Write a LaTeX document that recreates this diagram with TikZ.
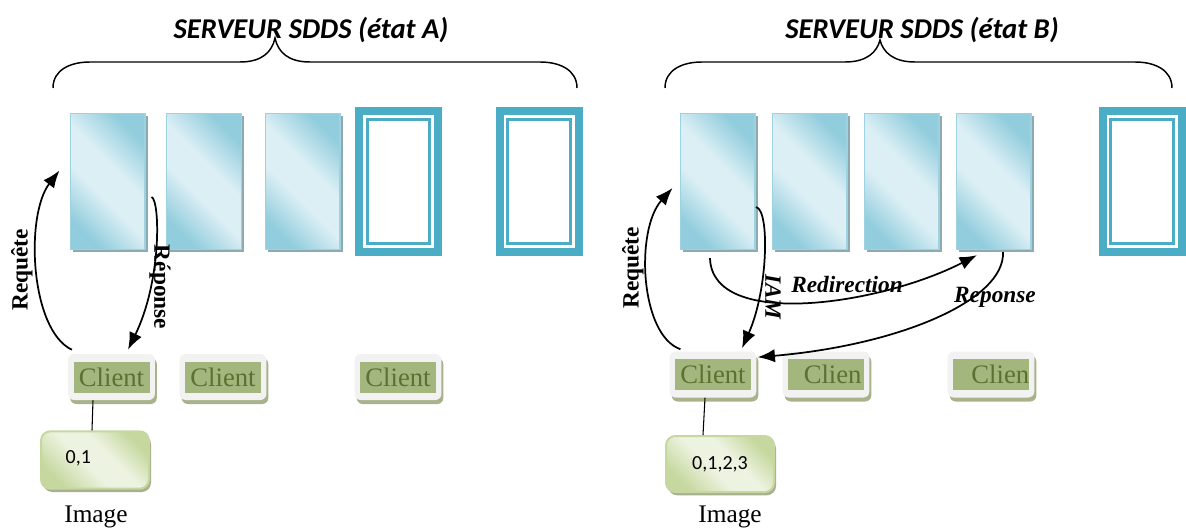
\documentclass[tikz,border=0pt]{standalone}
\usepackage{fontspec}
\setmainfont{Liberation Serif}
\newfontfamily\calibri{Carlito}
\usetikzlibrary{arrows.meta,shadows}

\definecolor{srvlight}{HTML}{DCEFF5}
\definecolor{srvdark}{HTML}{92CDDD}
\definecolor{srvedge}{HTML}{9DD3E0}
\definecolor{srvshadow}{HTML}{8FA9B1}
\definecolor{emptyblue}{HTML}{4BACC6}
\definecolor{cligray}{HTML}{F2F2F2}
\definecolor{cligreen}{HTML}{A3B67D}
\definecolor{clitext}{HTML}{5C7031}
\definecolor{clishadow}{HTML}{A8B38C}
\definecolor{imglight}{HTML}{EDF3E1}
\definecolor{imgdark}{HTML}{C6D89F}
\definecolor{imgshadow}{HTML}{A9B091}

\pgfdeclarehorizontalshading{srvshade}{100bp}{color(0bp)=(srvdark); color(25bp)=(srvdark); color(43bp)=(srvlight); color(57bp)=(srvlight); color(75bp)=(srvdark); color(100bp)=(srvdark)}
\pgfdeclarehorizontalshading{imgshade}{100bp}{color(0bp)=(imgdark); color(25bp)=(imgdark); color(45bp)=(imglight); color(58bp)=(imglight); color(75bp)=(imgdark); color(100bp)=(imgdark)}

\tikzset{
  srvbox/.style={rectangle, draw=srvedge, line width=1pt, shading=srvshade, shading angle=45,
    minimum width=56pt, minimum height=102pt,
    drop shadow={shadow xshift=2.2pt, shadow yshift=-2.2pt, fill=srvshadow, opacity=1}},
  freebox/.style={rectangle, draw=emptyblue, fill=white, line width=6pt,
    minimum width=59.25pt, minimum height=105.75pt},
  freeinner/.style={draw=emptyblue, line width=2pt},
  cliframe/.style={rectangle, rounded corners=4.5pt, fill=cligray,
    minimum width=65pt, minimum height=34.5pt,
    drop shadow={shadow xshift=1.5pt, shadow yshift=-3pt, fill=clishadow, opacity=1}},
  clibox/.style={rectangle, fill=cligreen, text=clitext, inner sep=0pt,
    minimum width=57pt, minimum height=23.25pt, font=\fontsize{20}{20}\selectfont},
  imgbox/.style={rectangle, rounded corners=7pt, draw=imgdark, line width=1.5pt,
    shading=imgshade, shading angle=45, minimum width=81pt, minimum height=43pt,
    drop shadow={shadow xshift=1.5pt, shadow yshift=-2.5pt, fill=imgshadow, opacity=1}},
  flow/.style={-{Latex[length=13pt,width=10pt]}, line width=1.3pt},
  flowlbl/.style={font=\fontsize{17.5}{17.5}\selectfont\bfseries},
  flowital/.style={font=\fontsize{17.5}{17.5}\selectfont\bfseries\itshape},
  srvtitle/.style={font=\calibri\fontsize{21.5}{21.5}\selectfont\bfseries\itshape},
  brace/.style={line width=1.1pt},
}

\begin{document}
\begin{tikzpicture}[x=0.75pt,y=0.75pt,yscale=-1,xscale=1]
	\useasboundingbox (0,0) rectangle (1186,531);

	% etat A
	\node[srvtitle] (titA) at (311,30) {SERVEUR SDDS (état A)};
	\draw[brace] (53,88) .. controls (53,70) and (70,62) .. (90,62) -- (240,62) .. controls (262,62) and (272,52) .. (275,38) .. controls (278,52) and (288,62) .. (310,62) -- (540,62) .. controls (560,62) and (577,70) .. (577,88);

	\node[srvbox] (srvA1) at (107.5,181.5) {};
	\node[srvbox] (srvA2) at (204,181.5) {};
	\node[srvbox] (srvA3) at (302.5,181.5) {};
	\node[freebox] (srvA4) at (398.5,181.5) {};
	\node[freebox] (srvA5) at (539,181.5) {};
	\draw[freeinner] ([shift={(12.3,12.3)}]srvA4.north west) rectangle ([shift={(-12.3,-12.3)}]srvA4.south east);
	\draw[freeinner] ([shift={(12.3,12.3)}]srvA5.north west) rectangle ([shift={(-12.3,-12.3)}]srvA5.south east);

	\node[cliframe] (frmA1) at (111.5,377) {};
	\node[clibox] (cliA1) at (frmA1.center) {Client};
	\node[cliframe] (frmA2) at (223,377) {};
	\node[clibox] (cliA2) at (frmA2.center) {Client};
	\node[cliframe] (frmA3) at (398,377) {};
	\node[clibox] (cliA3) at (frmA3.center) {Client};

	\node[imgbox] (imgA) at (95,460) {};
	\node[font=\calibri\fontsize{15}{15}\selectfont, anchor=west] (valA) at (61,458) {0,1};
	\node[font=\fontsize{19}{19}\selectfont] (capA) at (96,517) {Image};
	\draw[line width=0.8pt] ([shift={(-18.5,0)}]frmA1.south) -- ([shift={(-3,0)}]imgA.north);

	\draw[flow] ([shift={(4,-4)}]frmA1.north west) .. controls (30,330) and (25,215) .. ([shift={(-10,-11)}]srvA1.west);
	\draw[flow] ([shift={(6,15.5)}]srvA1.east) .. controls (160,200) and (162,280) .. ([shift={(16.5,-4)}]frmA1.north);
	\node[flowlbl, rotate=90] (reqA) at (22,270) {Requête};
	\node[flowlbl, rotate=-90] (repA) at (160,287) {Réponse};

	% etat B
	\node[srvtitle] (titB) at (922,30) {SERVEUR SDDS (état B)};
	\draw[brace] (665,88) .. controls (665,70) and (682,62) .. (702,62) -- (845,62) .. controls (867,62) and (877,52) .. (880,40) .. controls (883,52) and (893,62) .. (915,62) -- (1135,62) .. controls (1155,62) and (1172,70) .. (1172,88);

	\node[srvbox] (srvB1) at (717.5,181.5) {};
	\node[srvbox] (srvB2) at (809.5,181.5) {};
	\node[srvbox] (srvB3) at (901.5,181.5) {};
	\node[srvbox] (srvB4) at (993.5,181.5) {};
	\node[freebox] (srvB5) at (1142,181.5) {};
	\draw[freeinner] ([shift={(12.3,12.3)}]srvB5.north west) rectangle ([shift={(-12.3,-12.3)}]srvB5.south east);

	\node[cliframe] (frmB1) at (713,374.5) {};
	\node[clibox] (cliB1) at (frmB1.center) {Client};
	\node[cliframe] (frmB2) at (826,374.5) {};
	\node[clibox] (cliB2) at (frmB2.center) {\hspace{10pt}Clien};
	\node[cliframe] (frmB3) at (991,374.5) {};
	\node[clibox] (cliB3) at (frmB3.center) {\hspace{14pt}Clien};

	\node[imgbox, minimum height=42pt] (imgB) at (720,464) {};
	\node[font=\calibri\fontsize{15}{15}\selectfont] (valB) at (imgB.center) {0,1,2,3};
	\node[font=\fontsize{19}{19}\selectfont] (capB) at (730,517) {Image};
	\draw[line width=0.8pt] ([shift={(-8,0)}]frmB1.south) -- ([shift={(-17,0)}]imgB.north);

	\draw[flow] ([shift={(11,-2)}]frmB1.north west) .. controls (640,335) and (635,230) .. ([shift={(-7,6.5)}]srvB1.west);
	\draw[flow] ([shift={(0.5,25.5)}]srvB1.east) .. controls (770,210) and (768,290) .. ([shift={(29,-3)}]frmB1.north);
	\draw[flow] ([shift={(-7.5,8)}]srvB1.south) .. controls (712,330) and (880,305) .. ([shift={(-16.5,5)}]srvB4.south);
	\draw[flow] ([shift={(9.5,2)}]srvB4.south) .. controls (1005,300) and (900,345) .. ([shift={(1,6)}]frmB1.north east);
	\node[flowlbl, rotate=90] (reqB) at (633,268) {Requête};
	\node[flowital, rotate=-90] (iamB) at (773,297) {IAM};
	\node[flowital] (redirB) at (847,285) {Redirection};
	\node[flowital] (repB) at (995,297) {Reponse};
\end{tikzpicture}
\end{document}
